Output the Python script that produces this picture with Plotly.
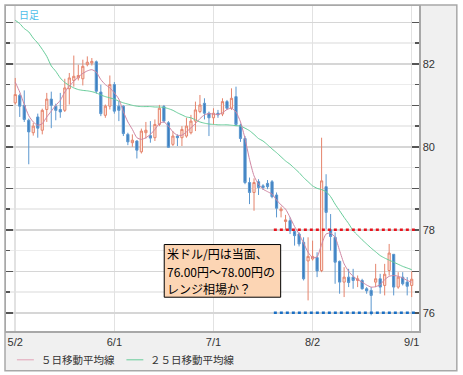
import plotly.graph_objects as go
import pandas as pd

# ---------------- data (USD/JPY daily) ----------------
dates = pd.bdate_range("2011-05-02", "2011-09-01")
x_idx = list(range(len(dates)))

opens = [81.06, 81.24, 81.00, 80.64, 80.34, 80.72, 80.40, 80.90, 81.15, 80.98,
         80.90, 80.88, 81.40, 81.60, 81.66, 81.64, 81.98, 82.02, 82.05, 81.32,
         80.76, 80.98, 81.50, 80.98, 80.98, 80.30, 80.10, 80.14, 79.88, 80.34,
         80.27, 80.22, 80.54, 80.97, 80.58, 80.06, 80.26, 80.22, 80.26, 80.34,
         80.62, 80.85, 81.05, 80.81, 80.70, 80.81, 80.79, 81.09, 80.93, 81.21,
         80.52, 80.20, 79.14, 78.90, 79.16, 79.06, 79.12, 79.16, 78.84, 78.46,
         78.20, 78.22, 77.96, 77.90, 77.70, 77.25, 77.30, 77.33, 77.02, 79.04,
         78.00, 77.82, 77.24, 76.74, 76.86, 76.86, 76.78, 76.78, 76.58, 76.54,
         76.74, 76.82, 76.66, 77.02, 77.41, 76.62, 76.86, 76.74, 76.66]
highs = [81.66, 81.28, 81.36, 80.68, 80.58, 80.80, 80.92, 81.30, 81.33, 81.04,
         81.30, 81.64, 81.78, 82.20, 81.98, 82.10, 82.18, 82.14, 82.08, 81.50,
         81.02, 81.72, 81.56, 81.10, 81.00, 80.34, 80.30, 80.16, 80.44, 80.60,
         80.62, 80.66, 81.01, 81.01, 80.62, 80.38, 80.30, 80.50, 80.70, 80.77,
         81.09, 81.25, 81.17, 80.85, 80.93, 80.89, 81.17, 81.13, 81.41, 81.45,
         80.56, 80.26, 79.26, 79.24, 79.22, 79.10, 79.20, 79.20, 78.90, 78.56,
         78.36, 78.30, 78.00, 77.94, 77.82, 77.82, 77.74, 77.46, 80.22, 79.34,
         78.38, 77.94, 77.26, 77.10, 77.06, 77.06, 76.90, 76.82, 76.62, 76.62,
         77.18, 76.94, 77.18, 77.66, 77.41, 76.98, 76.98, 76.86, 77.00]
lows = [81.02, 80.72, 80.60, 79.58, 80.27, 80.22, 80.30, 80.60, 80.45, 80.64,
        80.70, 80.84, 81.02, 81.45, 81.60, 81.48, 81.94, 81.96, 81.28, 80.74,
        80.70, 80.90, 80.80, 80.62, 80.26, 80.04, 80.00, 79.72, 79.84, 80.20,
        80.10, 80.14, 80.50, 80.58, 79.98, 80.02, 80.02, 80.02, 80.22, 80.30,
        80.38, 80.81, 80.66, 80.26, 80.54, 80.70, 80.74, 80.89, 80.89, 80.50,
        80.12, 79.10, 78.62, 78.46, 78.84, 78.96, 78.98, 78.76, 78.30, 78.30,
        78.00, 77.90, 77.62, 77.60, 76.78, 76.30, 77.26, 76.86, 76.98, 78.02,
        77.50, 76.70, 76.46, 76.38, 76.62, 76.58, 76.62, 76.56, 76.46, 75.94,
        76.62, 76.46, 76.42, 76.90, 76.42, 76.58, 76.66, 76.42, 76.38]
closes = [81.26, 80.98, 80.66, 80.36, 80.50, 80.45, 80.88, 81.15, 81.00, 80.88,
          80.84, 81.42, 81.66, 81.70, 81.72, 81.94, 82.04, 82.06, 81.34, 80.80,
          80.98, 81.50, 80.86, 80.88, 80.32, 80.12, 80.16, 79.92, 80.38, 80.40,
          80.21, 80.54, 80.93, 80.62, 79.99, 80.26, 80.22, 80.42, 80.50, 80.62,
          80.89, 81.01, 80.81, 80.70, 80.81, 80.77, 81.09, 80.93, 81.17, 80.54,
          80.20, 79.14, 78.90, 79.14, 79.02, 79.02, 79.04, 78.80, 78.52, 78.50,
          78.24, 77.98, 77.86, 77.66, 76.82, 77.36, 77.36, 77.01, 79.18, 78.42,
          77.84, 77.22, 76.74, 76.86, 76.73, 76.78, 76.82, 76.58, 76.53, 76.42,
          76.82, 76.62, 76.93, 77.44, 76.62, 76.86, 76.70, 76.64, 76.81]
ma5 = [81.56, 81.32, 81.02, 80.75, 80.60, 80.52, 80.56, 80.72, 80.86, 81.00,
       81.12, 81.32, 81.46, 81.58, 81.68, 81.77, 81.83, 81.86, 81.80, 81.62,
       81.50, 81.42, 81.30, 81.15, 80.85, 80.60, 80.42, 80.22, 80.18, 80.22,
       80.30, 80.42, 80.56, 80.60, 80.50, 80.36, 80.28, 80.28, 80.36, 80.46,
       80.56, 80.68, 80.77, 80.80, 80.79, 80.78, 80.82, 80.90, 80.93, 80.84,
       80.60, 80.20, 79.70, 79.30, 79.10, 78.98, 78.92, 78.86, 78.72, 78.60,
       78.50, 78.30, 78.08, 77.90, 77.68, 77.46, 77.33, 77.35, 77.65, 77.90,
       77.92, 77.82, 77.50, 77.18, 77.00, 76.88, 76.80, 76.74, 76.67, 76.62,
       76.63, 76.68, 76.80, 76.88, 76.90, 76.88, 76.84, 76.78, 76.74]
ma25 = [83.05, 82.97, 82.85, 82.77, 82.62, 82.50, 82.35, 82.18, 81.95, 81.82,
        81.66, 81.55, 81.48, 81.42, 81.38, 81.36, 81.35, 81.33, 81.30, 81.25,
        81.21, 81.18, 81.15, 81.10, 81.06, 81.03, 81.00, 80.98, 80.97, 80.97,
        80.97, 80.96, 80.96, 80.95, 80.92, 80.88, 80.82, 80.77, 80.72, 80.70,
        80.65, 80.60, 80.57, 80.55, 80.54, 80.53, 80.53, 80.53, 80.52, 80.51,
        80.50, 80.45, 80.39, 80.30, 80.20, 80.14, 80.05, 79.95, 79.86, 79.76,
        79.66, 79.58, 79.48, 79.38, 79.26, 79.16, 79.06, 79.00, 78.97, 78.92,
        78.80, 78.62, 78.46, 78.30, 78.15, 77.98, 77.87, 77.76, 77.66, 77.56,
        77.47, 77.38, 77.32, 77.27, 77.22, 77.17, 77.12, 77.08, 77.04]

tick_dates = ["2011-05-02", "2011-06-01", "2011-07-01", "2011-08-02", "2011-09-01"]
tick_labels = ["5/2", "6/1", "7/1", "8/2", "9/1"]
y_major = [76, 77, 78, 79, 80, 81, 82, 83]
y_major_labels = ["76", "", "78", "", "80", "", "82", ""]
y_minor = [75.5, 76.5, 77.5, 78.5, 79.5, 80.5, 81.5, 82.5]

range_high = 78.0
range_low = 76.0
range_from = "2011-07-20"
range_to = "2011-09-01"

legend_names = ["５日移動平均線", "２５日移動平均線"]
chart_label = "日足"
note_lines = ["米ドル/円は当面、", "76.00円～78.00円の", "レンジ相場か？"]

# ---------------- layout geometry ----------------
W, H = 463, 375
ML, MR, MT, MB = 4, 44, 4, 44
PW, PH = W - ML - MR, H - MT - MB


def px(xp):
    return (xp - ML) / PW


def py(yp):
    return (MT + PH - yp) / PH


date_list = list(dates)
tick_pos = [date_list.index(pd.Timestamp(d)) for d in tick_dates]
r_from = date_list.index(pd.Timestamp(range_from)) + 0.4
r_to = date_list.index(pd.Timestamp(range_to)) + 0.9

C_UP_LINE = "#e5846c"
C_UP_FILL = "#fde6de"
C_DN_LINE = "#5b97cf"
C_DN_FILL = "#3b7fc0"
C_MA5 = "#cf86a3"
C_MA25 = "#66cc99"
CJK = "Noto Sans CJK JP"

fig = go.Figure()
fig.add_trace(go.Candlestick(
    x=x_idx, open=opens, high=highs, low=lows, close=closes,
    increasing=dict(line=dict(color=C_UP_LINE, width=1), fillcolor=C_UP_FILL),
    decreasing=dict(line=dict(color=C_DN_LINE, width=1), fillcolor=C_DN_FILL),
    whiskerwidth=0, showlegend=False, hoverinfo="skip",
))
fig.add_trace(go.Scatter(x=x_idx, y=ma25, mode="lines",
                         line=dict(color=C_MA25, width=1, shape="spline", smoothing=0.6),
                         showlegend=False, hoverinfo="skip"))
fig.add_trace(go.Scatter(x=x_idx, y=ma5, mode="lines",
                         line=dict(color=C_MA5, width=1, shape="spline", smoothing=0.6),
                         showlegend=False, hoverinfo="skip"))

shapes = [
    # outer frame (grey panel) and white plot area
    dict(type="rect", xref="paper", yref="paper", layer="below",
         x0=px(3), x1=px(457), y0=py(371), y1=py(3),
         fillcolor="#f0f0f0", line=dict(color="#a8a8a8", width=1.5)),
    dict(type="rect", xref="paper", yref="paper", layer="below",
         x0=0, x1=1, y0=0, y1=1, fillcolor="white", line=dict(width=0)),
    # range lines
    dict(type="line", xref="x", yref="y", x0=r_from, x1=r_to, y0=range_high, y1=range_high,
         line=dict(color="#e8141e", width=2.5, dash="dot")),
    dict(type="line", xref="x", yref="y", x0=r_from, x1=r_to, y0=range_low, y1=range_low,
         line=dict(color="#1a6fc4", width=2.5, dash="dot")),
    # note box
    dict(type="rect", xref="paper", yref="paper",
         x0=px(163), x1=px(280), y0=py(297), y1=py(244),
         fillcolor="#fcd5b4", line=dict(color="black", width=1)),
    # legend lines
    dict(type="line", xref="paper", yref="paper", x0=px(15), x1=px(32), y0=py(360), y1=py(360),
         line=dict(color="#e2a2b6", width=1)),
    dict(type="line", xref="paper", yref="paper", x0=px(125), x1=px(142), y0=py(360), y1=py(360),
         line=dict(color=C_MA25, width=1)),
]

annotations = [
    dict(text=chart_label, xref="paper", yref="paper", x=px(15), y=py(12.5),
         xanchor="left", yanchor="middle", showarrow=False,
         font=dict(family=CJK, size=10, color="#4fbde9")),
    dict(text=legend_names[0], xref="paper", yref="paper", x=px(37), y=py(360),
         xanchor="left", yanchor="middle", showarrow=False,
         font=dict(family=CJK, size=10.5, color="#333333")),
    dict(text=legend_names[1], xref="paper", yref="paper", x=px(147), y=py(360),
         xanchor="left", yanchor="middle", showarrow=False,
         font=dict(family=CJK, size=10.5, color="#333333")),
]
for k, (line, yc) in enumerate(zip(note_lines, [253, 271, 288.5])):
    annotations.append(dict(text=line, xref="paper", yref="paper", x=px(164), y=py(yc),
                            xanchor="left", yanchor="middle", showarrow=False,
                            font=dict(family=CJK, size=12, color="black")))

fig.update_layout(
    width=W, height=H,
    margin=dict(l=ML, r=MR, t=MT, b=MB),
    paper_bgcolor="white", plot_bgcolor="white",
    showlegend=False, hovermode=False,
    shapes=shapes, annotations=annotations,
    xaxis=dict(
        range=[-2.05, 89.62], rangeslider=dict(visible=False),
        tickmode="array", tickvals=tick_pos, ticktext=tick_labels,
        ticks="", showgrid=True, gridcolor="#e2e2e2", gridwidth=1.5,
        showline=True, linecolor="#a8a8a8", linewidth=1.5, mirror=True,
        zeroline=False,
        tickfont=dict(family="Liberation Sans, Arial", size=11, color="#333333"),
    ),
    yaxis=dict(
        range=[75.562, 83.394], side="right",
        tickmode="array", tickvals=y_major, ticktext=y_major_labels,
        ticks="inside", ticklen=7, tickwidth=1.5, tickcolor="#555555",
        showgrid=True, gridcolor="#d6d6d6", gridwidth=1.5,
        showline=True, linecolor="#a8a8a8", linewidth=1.5, mirror="ticks",
        zeroline=False,
        minor=dict(tickmode="array", tickvals=y_minor, ticks="inside", ticklen=4,
                   tickwidth=1.5, tickcolor="#555555",
                   showgrid=True, gridcolor="#ececec", gridwidth=1.5),
        tickfont=dict(family="Liberation Sans, Arial", size=11, color="#333333"),
    ),
)

fig.write_html("out.html", config=dict(displayModeBar=False, staticPlot=True))
